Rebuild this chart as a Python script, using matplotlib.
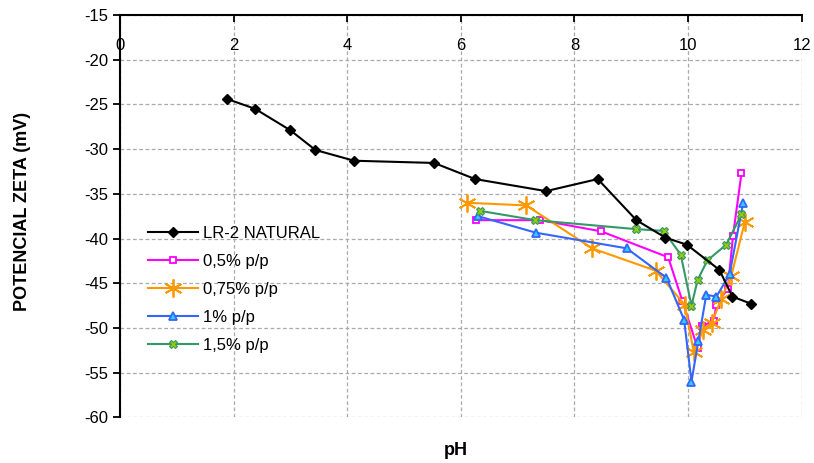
import matplotlib
matplotlib.use('Agg')
import matplotlib.pyplot as plt

plt.rcParams['font.family'] = ['Liberation Sans', 'DejaVu Sans']
plt.rcParams['axes.unicode_minus'] = False

# LR-2 natural
natural_ph = [1.89, 2.38, 3.0, 3.44, 4.12, 5.53, 6.25, 7.5, 8.41, 9.09, 9.6, 9.98, 10.55, 10.78, 11.11]
natural_zeta = [-24.4, -25.5, -27.9, -30.1, -31.3, -31.55, -33.35, -34.7, -33.35, -37.95, -39.9, -40.7, -43.5, -46.5, -47.3]

# 0,5% p/p
p05_ph = [6.27, 7.4, 8.47, 9.65, 9.9, 10.17, 10.25, 10.45, 10.5, 10.7, 10.79, 10.94]
p05_zeta = [-37.95, -37.95, -39.2, -42.1, -47.0, -52.3, -49.8, -49.2, -47.4, -45.6, -39.7, -32.7]

# 0,75% p/p
p075_ph = [6.1, 7.15, 8.31, 9.43, 9.94, 10.1, 10.26, 10.42, 10.58, 10.76, 11.0]
p075_zeta = [-36.0, -36.3, -41.1, -43.6, -47.4, -52.7, -50.2, -49.4, -46.8, -44.2, -38.1]

# 1% p/p
p1_ph = [6.3, 7.32, 8.92, 9.62, 9.93, 10.06, 10.18, 10.32, 10.5, 10.73, 10.97]
p1_zeta = [-37.5, -39.35, -41.1, -44.4, -49.1, -56.0, -51.5, -46.3, -46.5, -44.0, -36.0]

# 1,5% p/p
p15_ph = [6.33, 7.31, 9.08, 9.57, 9.87, 10.06, 10.17, 10.34, 10.67, 10.94]
p15_zeta = [-36.9, -37.95, -38.95, -39.15, -41.8, -47.5, -44.6, -42.45, -40.7, -37.3]

fig = plt.figure(figsize=(8.14, 4.63), dpi=100)
ax = fig.add_axes([0.1474, 0.0987, 0.8375, 0.8689])

ax.plot(natural_ph, natural_zeta, color='black', lw=1.5, marker='D', ms=5,
        mfc='black', mec='black', label='LR-2 NATURAL', zorder=5)
ax.plot(p05_ph, p05_zeta, color='#FF00FF', lw=1.5, marker='s', ms=5,
        mfc='white', mec='#FF00FF', mew=1.3, label='0,5% p/p', zorder=4)
ax.plot(p075_ph, p075_zeta, color='#FF9900', lw=1.5, marker=(6, 2, 0), ms=13,
        mec='#FF9900', mew=1.3, label='0,75% p/p', zorder=4)
ax.plot(p1_ph, p1_zeta, color='#3366FF', lw=1.5, marker='^', ms=6,
        mfc='#33CCFF', mec='#3366FF', mew=1.3, label='1% p/p', zorder=4)
ax.plot(p15_ph, p15_zeta, color='#339966', lw=1.5, marker='X', ms=6,
        mfc='#99CC00', mec='#339966', mew=0.8, label='1,5% p/p', zorder=4)

ax.set_xlim(0, 12)
ax.set_ylim(-60, -15)
ax.set_xticks(range(0, 13, 2))
ax.set_yticks(range(-60, -14, 5))

ax.xaxis.tick_top()
ax.tick_params(axis='x', direction='in', length=5, width=1.3, pad=-27, labelsize=12)
ax.tick_params(axis='y', direction='out', length=5, width=1.3, labelsize=12)

ax.spines['right'].set_visible(False)
ax.spines['bottom'].set_visible(False)
ax.spines['top'].set_linewidth(1.5)
ax.spines['left'].set_linewidth(1.5)

ax.grid(True, color='#aaaaaa', linestyle=(0, (3, 2)), lw=0.9)
ax.set_axisbelow(True)

fig.text(0.028, 0.543, 'POTENCIAL ZETA (mV)', rotation=90, ha='center', va='center',
         fontsize=13, fontweight='bold')
fig.text(0.560, 0.028, 'pH', ha='center', va='center', fontsize=13, fontweight='bold')

ax.legend(loc='upper left', bbox_to_anchor=(0.041, 0.476), frameon=False,
          fontsize=12, handlelength=3.0, handletextpad=0.3, labelspacing=0.78,
          borderpad=0, borderaxespad=0)

fig.savefig('out.png', dpi=100)
